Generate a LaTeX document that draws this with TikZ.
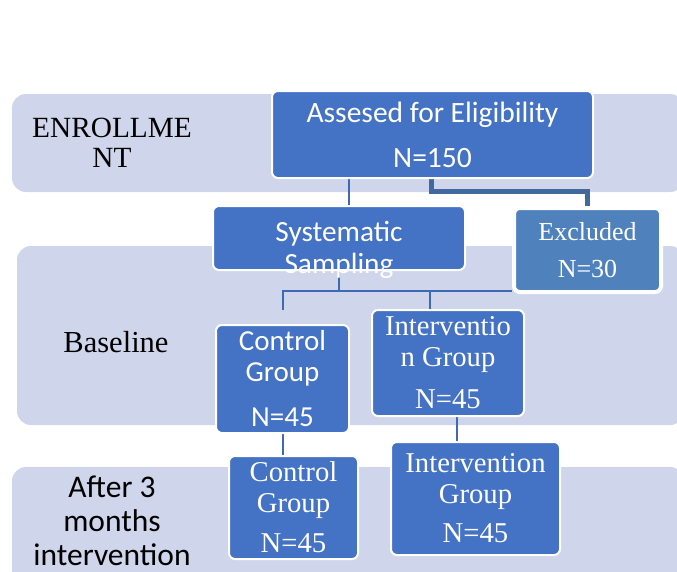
\documentclass[tikz,border=0pt]{standalone}
\usepackage{fontspec}
\setmainfont{Liberation Serif}
\newfontfamily\carl{Carlito}
\definecolor{bandc}{HTML}{CFD5EA}
\definecolor{boxc}{HTML}{4472C4}
\definecolor{excc}{HTML}{4F81BD}
\definecolor{linec}{HTML}{3E6AB5}
\definecolor{thickc}{HTML}{41699D}
\pgfdeclarelayer{bg}
\pgfdeclarelayer{lines}
\pgfsetlayers{bg,lines,main}
\begin{document}
\begin{tikzpicture}[x=1pt,y=-1pt,
  band/.style={fill=bandc, draw=none, rounded corners=14pt},
  box/.style={fill=boxc, draw=white, line width=2pt, rounded corners=6pt, inner sep=0pt, text=white, align=center},
  conn/.style={draw=linec, line width=2pt},
  thickconn/.style={draw=thickc, line width=5pt},
  lbl/.style={inner sep=0pt, align=center, text=black}]
\useasboundingbox (0,0) rectangle (677,571);
\begin{scope}
\clip (0,0) rectangle (677,571);
% boxes
\node[box, minimum width=321pt, minimum height=87pt, font=\carl\fontsize{29.5}{45}\selectfont] (ass) at (432.5,134.5)
  {Assesed for Eligibility\\N=150};
\node[box, minimum width=252pt, minimum height=64pt] (sys) at (339,238) {};
\node[box, fill=excc, line width=4pt, minimum width=147pt, minimum height=84pt, font=\fontsize{26}{37}\selectfont] (exc) at (587.5,250)
  {Excluded\\N=30};
\node[box, minimum width=133pt, minimum height=108pt, font=\carl\fontsize{29}{31}\selectfont] (cb) at (282.5,379)
  {Control\\Group\\[14pt]N=45};
\node[box, minimum width=152pt, minimum height=106pt, font=\fontsize{28.7}{31}\selectfont] (ib) at (448,363)
  {Interventio\\n Group\\[11pt]N=45};
\node[box, minimum width=129pt, minimum height=103pt, font=\fontsize{28.7}{31}\selectfont] (ca) at (293.5,507.5)
  {Control\\Group\\[9pt]N=45};
\node[box, minimum width=169pt, minimum height=113pt, font=\fontsize{28.7}{31}\selectfont] (ia) at (475.5,498.5)
  {Intervention\\Group\\[8pt]N=45};
\node[lbl, text=white, font=\carl\fontsize{29.3}{32}\selectfont] (systxt) at (339,250) {Systematic\\Sampling};
% labels
\node[lbl, font=\fontsize{29.3}{30}\selectfont] (enr) at (112,143) {ENROLLME\\NT};
\node[lbl, font=\fontsize{30.5}{30}\selectfont] (base) at (116,342) {Baseline};
\node[lbl, font=\carl\fontsize{31.5}{34}\selectfont] (after) at (112,521) {After 3\\months\\intervention};
% bands
\begin{pgfonlayer}{bg}
\fill[band] (12,94) rectangle (684,192);
\fill[band] (17,246) rectangle (684,425);
\fill[band] (12,467) rectangle (684,610);
\end{pgfonlayer}
% connectors
\begin{pgfonlayer}{lines}
\draw[conn] ([xshift=-83.5pt]ass.south) -- ([xshift=-83.5pt]ass.south |- sys.north);
\draw[thickconn] ([xshift=-1pt]ass.south) -- ++(0,12) -| (exc.north);
\draw[conn] (sys.south) -- ++(0,20) coordinate (jn);
\draw[conn] ([yshift=14pt]cb.north) |- (exc.west |- jn);
\draw[conn] ([xshift=-18pt]ib.north) -- ([xshift=-18pt]ib.north |- jn);
\draw[conn] (cb.south) -- (cb.south |- ca.north);
\draw[conn] ([xshift=9pt]ib.south) -- ([xshift=9pt]ib.south |- ia.north);
\end{pgfonlayer}
\end{scope}
\end{tikzpicture}
\end{document}
